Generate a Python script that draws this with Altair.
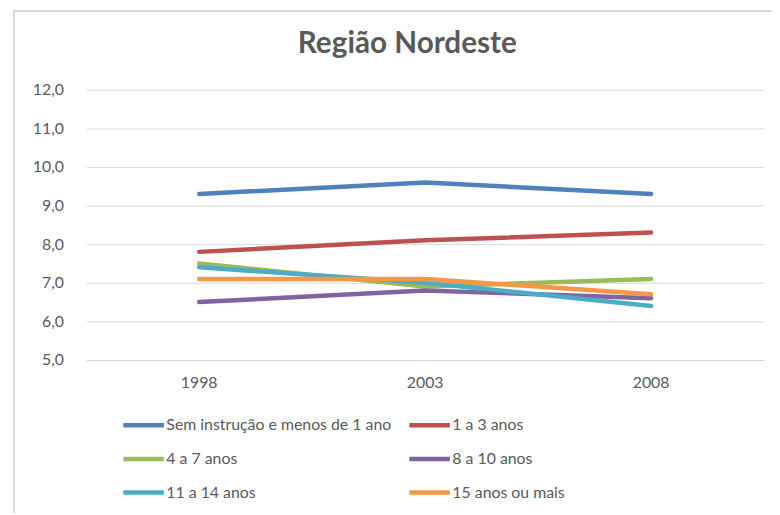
import altair as alt
import pandas as pd

years = ["1998", "2003", "2008"]
series = [
    "Sem instrução e menos de 1 ano",
    "1 a 3 anos",
    "4 a 7 anos",
    "8 a 10 anos",
    "11 a 14 anos",
    "15 anos ou mais",
]
v_sem = [9.3, 9.6, 9.3]
v_1a3 = [7.8, 8.1, 8.3]
v_4a7 = [7.5, 6.9, 7.1]
v_8a10 = [6.5, 6.8, 6.6]
v_11a14 = [7.4, 7.0, 6.4]
v_15 = [7.1, 7.1, 6.7]
colors = ["#4F81BD", "#C0504D", "#9BBB59", "#8064A2", "#4BACC6", "#F79646"]

values = [v_sem, v_1a3, v_4a7, v_8a10, v_11a14, v_15]
rows = []
for i, (s, vals) in enumerate(zip(series, values)):
    for y, v in zip(years, vals):
        rows.append({"serie": s, "ano": y, "valor": v, "ordem": i})
df = pd.DataFrame(rows)

FONT = "Lato"
GREY = "#595959"

lines = alt.Chart(df).mark_line(strokeWidth=4.5, strokeCap="round", strokeJoin="round").encode(
    x=alt.X("ano:N", sort=years,
            scale=alt.Scale(paddingInner=0, paddingOuter=0, type="band"),
            axis=alt.Axis(title=None, labelAngle=0, ticks=False, domain=True,
                          domainColor="#d9d9d9", labelPadding=15,
                          labelFont=FONT, labelFontSize=16, labelColor=GREY, grid=False)),
    y=alt.Y("valor:Q", scale=alt.Scale(domain=[5, 12], nice=False, zero=False),
            axis=alt.Axis(title=None, values=[5, 6, 7, 8, 9, 10, 11, 12],
                          labelExpr="replace(format(datum.value, '.1f'), '.', ',')",
                          ticks=False, domain=False, gridColor="#d9d9d9",
                          labelPadding=23, labelFont=FONT, labelFontSize=16,
                          labelColor=GREY)),
    color=alt.Color("serie:N", sort=series,
                    scale=alt.Scale(domain=series, range=colors),
                    legend=alt.Legend(title=None, orient="none", legendX=35, legendY=316,
                                      direction="horizontal",
                                      columns=2, symbolType="stroke", symbolSize=1681,
                                      symbolStrokeWidth=4.5, labelFont=FONT,
                                      labelFontSize=16, labelColor=GREY,
                                      labelOffset=0, columnPadding=8, rowPadding=2,
                                      labelLimit=400)),
    order="ordem:Q",
)

frame_top = alt.Chart(df).mark_rule(color="#d9d9d9", strokeWidth=1).encode(
    x=alt.value(-73), x2=alt.value(700), y=alt.value(-79.5))
frame_left = alt.Chart(df).mark_rule(color="#d9d9d9", strokeWidth=1).encode(
    x=alt.value(-72.5), y=alt.value(-80), y2=alt.value(440))

chart = alt.layer(frame_top, frame_left, lines).properties(
    width=685, height=273,
    padding={"left": 79, "top": 80, "right": 8, "bottom": 152},
    autosize=alt.AutoSizeParams(type="none"),
    title=alt.TitleParams("Região Nordeste", font=FONT, fontSize=30, fontWeight="bold",
                          color=GREY, anchor="middle", frame="group", dx=-18,
                          offset=-73, baseline="alphabetic"),
).configure_view(stroke=None)

chart.save("out.html", embed_options={"renderer": "svg", "actions": False})
